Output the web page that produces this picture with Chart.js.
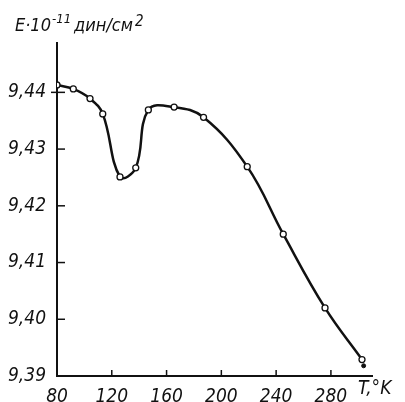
<!DOCTYPE html>
<html>
<head>
<meta charset="utf-8">
<script src="https://cdn.jsdelivr.net/npm/chart.js@4"></script>
<style>
  html, body { margin: 0; padding: 0; background: #fff; }
  #wrap { width: 405px; height: 402px; }
</style>
</head>
<body>
<div id="wrap"><canvas id="chart" width="405" height="402"></canvas></div>
<script>
// temperature, K
const temps = [80, 91.9, 104.1, 113.4, 126, 137.5, 146.7, 165.5, 187, 218.9, 245.2, 275.7, 302.7];
// Young's modulus E, 10^11 dyn/cm^2
const moduli = [9.4413, 9.4406, 9.4389, 9.4362, 9.4251, 9.4267, 9.4369, 9.4374, 9.4356, 9.4269, 9.4150, 9.4020, 9.3929];
// the small filled dot under the last point
const extraT = [303.9];
const extraE = [9.3918];

const xTicks = [80, 120, 160, 200, 240, 280];
const yTicks = [9.39, 9.40, 9.41, 9.42, 9.43, 9.44];

const ink = '#111';
const labelFont = "'Liberation Sans Narrow', 'DejaVu Sans Condensed', sans-serif";

// inner tick marks + axis captions
const decor = {
    id: 'decor',
    afterDraw(chart) {
        const ctx = chart.ctx;
        const xs = chart.scales.x, ys = chart.scales.y;
        const area = chart.chartArea;
        ctx.save();
        ctx.strokeStyle = ink;
        ctx.lineWidth = 1.5;
        yTicks.forEach(v => {
            if (v === yTicks[0]) return;
            const py = ys.getPixelForValue(v);
            ctx.beginPath();
            ctx.moveTo(area.left, py);
            ctx.lineTo(area.left + 8, py);
            ctx.stroke();
        });
        // the top one also sticks out to the left
        const top = ys.getPixelForValue(yTicks[yTicks.length - 1]);
        ctx.beginPath();
        ctx.moveTo(area.left - 6, top);
        ctx.lineTo(area.left, top);
        ctx.stroke();
        xTicks.forEach(v => {
            if (v === xTicks[0]) return;
            const px = xs.getPixelForValue(v);
            ctx.beginPath();
            ctx.moveTo(px, area.bottom);
            ctx.lineTo(px, area.bottom - 6);
            ctx.stroke();
        });

        ctx.fillStyle = ink;
        ctx.textBaseline = 'alphabetic';
        ctx.textAlign = 'left';
        // y title: E·10^-11 дин/см^2
        ctx.font = "italic 18px " + labelFont;
        let x = 15;
        ctx.fillText('E·10', x, 31);
        x += ctx.measureText('E·10').width + 1;
        ctx.font = "italic 13px " + labelFont;
        ctx.fillText('-11', x, 23);
        x += ctx.measureText('-11').width + 3;
        ctx.font = "italic 18px " + labelFont;
        ctx.fillText('дин/см', x, 31);
        x += ctx.measureText('дин/см').width + 2;
        ctx.font = "italic 15px " + labelFont;
        ctx.fillText('2', x, 26);
        // x title
        ctx.font = "italic 19px " + labelFont;
        ctx.fillText('T,°K', 358, 394);
        ctx.restore();
    }
};

new Chart(document.getElementById('chart'), {
    type: 'line',
    data: {
        datasets: [{
            data: temps.map((t, i) => ({ x: t, y: moduli[i] })),
            borderColor: ink,
            borderWidth: 2.5,
            tension: 0.4,
            pointRadius: 3,
            pointBorderWidth: 1.3,
            pointBackgroundColor: '#fff',
            pointBorderColor: ink,
            fill: false
        }, {
            data: extraT.map((t, i) => ({ x: t, y: extraE[i] })),
            showLine: false,
            pointRadius: 2,
            pointBackgroundColor: ink,
            pointBorderColor: ink
        }]
    },
    options: {
        responsive: false,
        animation: false,
        layout: { padding: { top: 43, right: 33, left: 0, bottom: 0 } },
        plugins: { legend: { display: false }, tooltip: { enabled: false } },
        scales: {
            x: {
                type: 'linear',
                min: 80,
                max: 310,
                afterBuildTicks: s => { s.ticks = xTicks.map(v => ({ value: v })); },
                afterFit: s => { s.height = 26; },
                grid: { display: false },
                border: { color: ink, width: 2 },
                ticks: {
                    color: ink,
                    padding: 2,
                    maxRotation: 0,
                    font: { family: labelFont, size: 19, style: 'italic' },
                    callback: v => String(v)
                }
            },
            y: {
                min: 9.39,
                max: 9.4487,
                afterBuildTicks: s => { s.ticks = yTicks.map(v => ({ value: v })); },
                afterFit: s => { s.width = 57; },
                grid: { display: false },
                border: { color: ink, width: 2 },
                ticks: {
                    color: ink,
                    padding: 3,
                    font: { family: labelFont, size: 19, style: 'italic' },
                    callback: v => v.toFixed(2).replace('.', ',')
                }
            }
        }
    },
    plugins: [decor]
});
</script>
</body>
</html>
